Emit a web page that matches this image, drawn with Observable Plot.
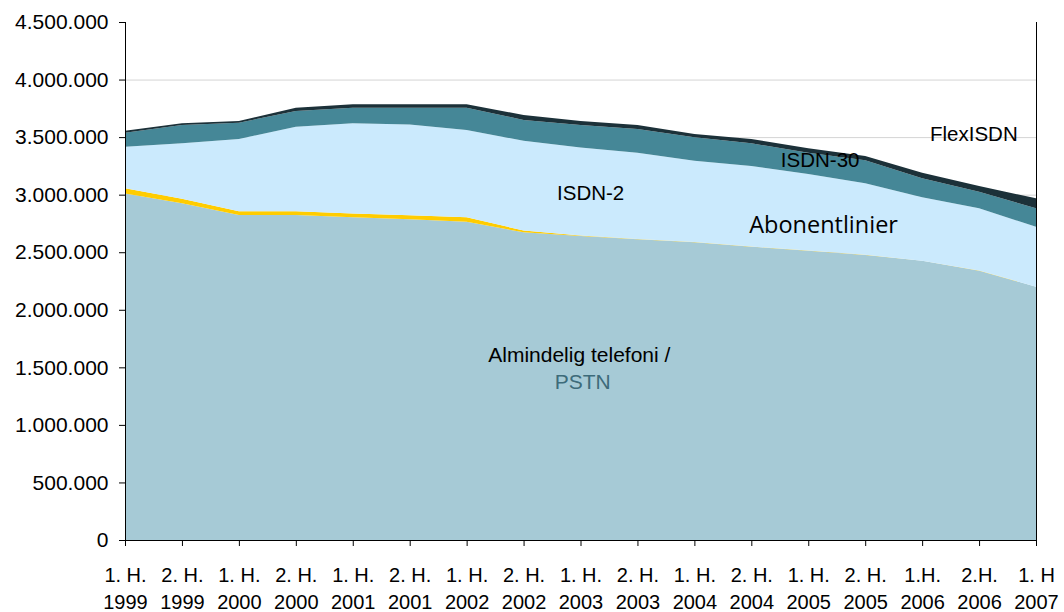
<!DOCTYPE html>
<html><head><meta charset="utf-8">
<script src="https://cdn.jsdelivr.net/npm/d3@7"></script>
<script src="https://cdn.jsdelivr.net/npm/@observablehq/plot@0.6"></script>
<style>body{margin:0;background:#fff} svg{display:block}</style>
</head><body><div id="chart"></div>
<script>
// Period tick labels
const periods = ["1. H.\n1999","2. H.\n1999","1. H.\n2000","2. H.\n2000","1. H.\n2001","2. H.\n2001","1. H.\n2002","2. H.\n2002","1. H.\n2003","2. H.\n2003","1. H.\n2004","2. H.\n2004","1. H.\n2005","2. H.\n2005","1.H.\n2006","2.H.\n2006","1. H\n2007"];
// Series values (number of lines)
const pstn   = [3010000,2925000,2823000,2823000,2803000,2786000,2765000,2673000,2640000,2612000,2586000,2548000,2513000,2476000,2426000,2340000,2200000];
const other  = [45000,40000,33000,33000,33000,35000,38000,16000,6000,2000,2000,1000,1000,1000,1000,1000,1000];
const isdn2  = [362000,481000,627000,734000,784000,789000,759000,780000,764000,751000,707000,700000,666000,622000,550000,540000,521000];
const isdn30 = [121000,159000,142000,137000,136000,146000,194000,180000,195000,205000,203000,197000,185000,201000,165000,145000,159000];
const flex   = [18000,15000,15000,29000,29000,29000,29000,43000,35000,35000,29000,37000,38000,36000,48000,49000,87000];
const seriesNames = ["PSTN","Øvrige","ISDN-2","ISDN-30","FlexISDN"];
const seriesColors = ["#a6cad6","#ffcc00","#cbeafd","#458797","#1c3139"];
const yTicks = [0,500000,1000000,1500000,2000000,2500000,3000000,3500000,4000000,4500000];
const gridTicks = [500000,1000000,1500000,2000000,2500000,3000000,3500000,4000000];
// Annotation labels (x = period index, y = value)
const labels = [
  {text:"FlexISDN", x:14.9, y:3530000, size:20.5, font:"Liberation Sans, Arial, sans-serif", color:"#000"},
  {text:"ISDN-30", x:12.2, y:3300000, size:20.5, font:"Liberation Sans, Arial, sans-serif", color:"#000"},
  {text:"ISDN-2", x:8.17, y:3014000, size:20.5, font:"Liberation Sans, Arial, sans-serif", color:"#000"},
  {text:"Abonentlinier", x:12.26, y:2736000, size:23.5, font:"Open Sans, sans-serif", color:"#000"},
  {text:"Almindelig telefoni /", x:7.97, y:1607000, size:21, font:"Liberation Sans, Arial, sans-serif", color:"#000"},
  {text:"PSTN", x:8.03, y:1373000, size:21, font:"Liberation Sans, Arial, sans-serif", color:"#3d6b7a"}
];

const seriesValues = [pstn, other, isdn2, isdn30, flex];
const rows = [];
seriesNames.forEach((s, k) => seriesValues[k].forEach((v, i) => rows.push({i, series: s, value: v})));
const idx = periods.map((_, i) => i);
const fmt = d3.formatLocale({decimal: ",", thousands: ".", grouping: [3], currency: ["", ""]}).format(",d");

const textMarks = labels.map(l => Plot.text([l], {x: "x", y: "y", text: "text", fontSize: l.size, fontFamily: l.font, fill: l.color}));

const chart = Plot.plot({
  width: 1064, height: 612,
  marginLeft: 125, marginRight: 28, marginTop: 22, marginBottom: 72,
  style: {fontFamily: "Liberation Sans, Arial, sans-serif", fontSize: "20px", color: "#000", background: "#fff"},
  x: {domain: [0, periods.length - 1], axis: null},
  y: {domain: [0, 4500000], axis: null},
  color: {domain: seriesNames, range: seriesColors},
  marks: [
    Plot.ruleY(gridTicks, {stroke: "#d4d4d4", strokeWidth: 1}),
    Plot.areaY(rows, {x: "i", y: "value", fill: "series", z: "series"}),
    Plot.axisY({ticks: yTicks, tickFormat: fmt, tickSize: 6, tickPadding: 11, fontSize: 21, label: null, stroke: "#000"}),
    Plot.axisX({ticks: idx, tickFormat: i => periods[i], tickSize: 6, tickPadding: 16, fontSize: 20, lineHeight: 1.35, label: null}),
    Plot.ruleX([0], {stroke: "#000"}),
    Plot.ruleX([periods.length - 1], {stroke: "#000"}),
    Plot.ruleY([0], {stroke: "#000"}),
    ...textMarks
  ]
});
document.getElementById("chart").append(chart);
</script>
</body></html>
